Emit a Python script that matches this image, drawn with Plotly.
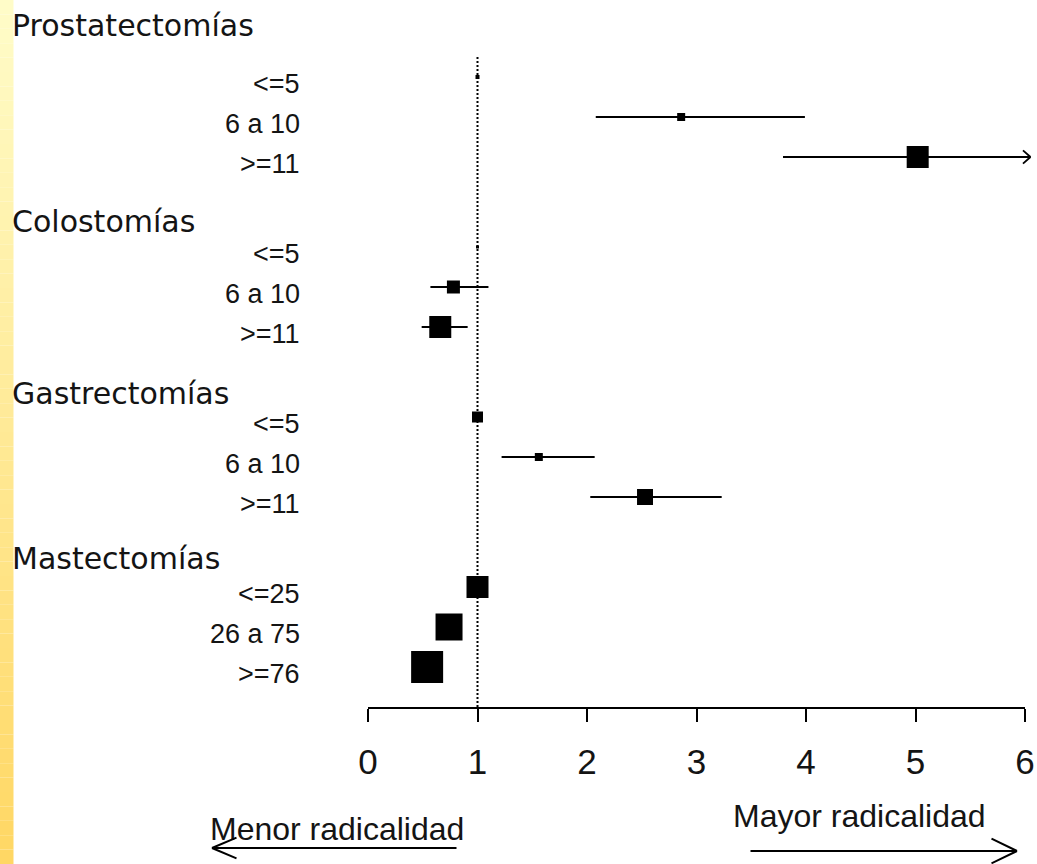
import math
import plotly.graph_objects as go

# ---------------- data ----------------
groups = ["Prostatectomías", "Colostomías", "Gastrectomías", "Mastectomías"]
row_labels = [
    ["<=5", "6 a 10", ">=11"],
    ["<=5", "6 a 10", ">=11"],
    ["<=5", "6 a 10", ">=11"],
    ["<=25", "26 a 75", ">=76"],
]
odds_ratio = [1.00, 2.86, 5.02, 1.00, 0.78, 0.66, 1.00, 1.56, 2.53, 1.00, 0.74, 0.54]
ci_low = [None, 2.08, 3.79, None, 0.57, 0.49, None, 1.22, 2.03, None, None, None]
ci_high = [None, 3.99, math.inf, None, 1.10, 0.91, None, 2.07, 3.23, None, None, None]
box_size = [4, 8, 22, 3, 13, 22, 11, 8, 16, 22, 27, 32]
x_ticks = [0, 1, 2, 3, 4, 5, 6]
reference_value = 1
left_note = "Menor radicalidad"
right_note = "Mayor radicalidad"

# ---------------- layout helpers ----------------
W, H = 1037, 864
ML, MR, MT, MB = 368, 12, 55, 157
PW, PH = W - ML - MR, H - MT - MB
X_MAX = 6
ARROW_TIP = 6.05
GROUP_STEP = 4.25
HEADER_PX = [26, 222, 393, 558]
Y_RANGE = [15.75, -0.55]
TEXT_COLOR = "#141414"


def px_x(px):
    return (px - ML) / PW


def px_y(py):
    return (H - MB - py) / PH


def data_to_paper_x(x):
    return x / X_MAX


def data_to_paper_y(y):
    return (Y_RANGE[0] - y) / (Y_RANGE[0] - Y_RANGE[1])


row_pos = []
row_text = []
for g, labs in enumerate(row_labels):
    for k, lab in enumerate(labs):
        row_pos.append(g * GROUP_STEP + k)
        row_text.append(lab)

plus, minus = [], []
for v, lo, hi in zip(odds_ratio, ci_low, ci_high):
    minus.append(0 if lo is None else v - lo)
    if hi is None:
        plus.append(0)
    elif math.isinf(hi):
        plus.append(X_MAX - v)
    else:
        plus.append(hi - v)

fig = go.Figure()
fig.add_trace(go.Scatter(
    x=odds_ratio, y=row_pos, mode="markers",
    marker=dict(symbol="square", size=box_size, color="black", opacity=1,
                line=dict(width=0)),
    error_x=dict(type="data", array=plus, arrayminus=minus, symmetric=False,
                 width=0, thickness=2, color="black"),
    cliponaxis=False, showlegend=False, hoverinfo="skip",
))

shapes = []
# decorative gradient strip at the left edge
n = 60
top_c = (255, 252, 200)
bot_c = (255, 215, 100)
for i in range(n):
    t = i / (n - 1)
    c = tuple(int(round(a + (b - a) * t)) for a, b in zip(top_c, bot_c))
    shapes.append(dict(type="rect", xref="paper", yref="paper",
                       x0=px_x(0), x1=px_x(13.5),
                       y0=px_y(H * (i + 1) / n), y1=px_y(H * i / n),
                       fillcolor="rgb(%d,%d,%d)" % c, line=dict(width=0),
                       layer="below"))
# reference (null effect) line
shapes.append(dict(type="line", xref="x", yref="paper",
                   x0=reference_value, x1=reference_value, y0=0, y1=1,
                   line=dict(color="black", width=2, dash="2px,2px")))

annotations = []
for name, hp in zip(groups, HEADER_PX):
    annotations.append(dict(text=name, xref="paper", yref="paper", x=px_x(10), y=px_y(hp),
                            xanchor="left", yanchor="middle", showarrow=False,
                            font=dict(family="DejaVu Sans", size=30, color=TEXT_COLOR)))
for lab, rp in zip(row_text, row_pos):
    annotations.append(dict(text=lab, xref="paper", yref="y", x=px_x(302), y=rp,
                            xanchor="right", yanchor="middle", yshift=-7, showarrow=False,
                            font=dict(family="Liberation Sans", size=27, color=TEXT_COLOR)))


def line_ann(x, y, dx, dy, width):
    return dict(text="", xref="paper", yref="paper", x=x, y=y, ax=dx, ay=dy,
                showarrow=True, arrowhead=0, arrowwidth=width,
                arrowcolor="black", standoff=0, startstandoff=0)


def open_arrow(x, y, shaft, barb_dx, barb_dy, width):
    return [line_ann(x, y, shaft, 0, width),
            line_ann(x, y, barb_dx, -barb_dy, width),
            line_ann(x, y, barb_dx, barb_dy, width)]


# arrows for CIs running beyond the axis
for v, hi, rp in zip(odds_ratio, ci_high, row_pos):
    if hi is not None and math.isinf(hi):
        annotations += open_arrow(data_to_paper_x(ARROW_TIP), data_to_paper_y(rp),
                                  -12, -9, 8, 1.8)

# bottom notes
annotations.append(dict(text=left_note, xref="paper", yref="paper",
                        x=px_x(208), y=px_y(829), xanchor="left", yanchor="middle",
                        showarrow=False,
                        font=dict(family="Liberation Sans", size=32, color=TEXT_COLOR)))
annotations.append(dict(text=right_note, xref="paper", yref="paper",
                        x=px_x(731), y=px_y(816), xanchor="left", yanchor="middle",
                        showarrow=False,
                        font=dict(family="Liberation Sans", size=32, color=TEXT_COLOR)))
annotations += open_arrow(px_x(212), px_y(848), 246, 26, 11, 2)
annotations += open_arrow(px_x(1017), px_y(851), -268, -27, 13, 2)

fig.update_layout(
    template="none",
    width=W, height=H,
    margin=dict(l=ML, r=MR, t=MT, b=MB, pad=0, autoexpand=False),
    paper_bgcolor="white", plot_bgcolor="white",
    shapes=shapes, annotations=annotations,
    xaxis=dict(range=[0, X_MAX], tickvals=x_ticks, ticktext=[str(t) for t in x_ticks],
               automargin=False,
               showgrid=False, zeroline=False, showline=True, linecolor="black",
               linewidth=2, ticks="outside", ticklen=13, tickwidth=2, tickcolor="black",
               ticklabelstandoff=10,
               tickfont=dict(family="Liberation Sans", size=35, color=TEXT_COLOR)),
    yaxis=dict(range=Y_RANGE, visible=False, automargin=False),
    showlegend=False,
)

fig.write_html("out.html")
